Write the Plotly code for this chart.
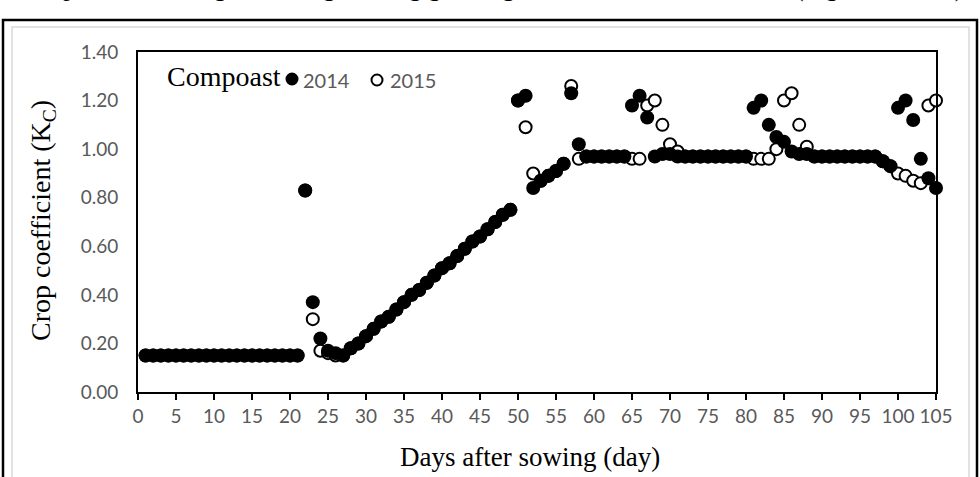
import plotly.graph_objects as go

# ---------------- data ----------------
days = list(range(1, 106))

kc_2014 = [
    0.15, 0.15, 0.15, 0.15, 0.15, 0.15, 0.15, 0.15, 0.15, 0.15,
    0.15, 0.15, 0.15, 0.15, 0.15, 0.15, 0.15, 0.15, 0.15, 0.15,
    0.15, 0.83, 0.37, 0.22, 0.17, 0.16, 0.15, 0.18, 0.20, 0.23,
    0.26, 0.29, 0.31, 0.34, 0.37, 0.40, 0.42, 0.45, 0.48, 0.51,
    0.53, 0.56, 0.59, 0.62, 0.64, 0.67, 0.70, 0.73, 0.75, 1.20,
    1.22, 0.84, 0.87, 0.89, 0.91, 0.94, 1.23, 1.02, 0.97, 0.97,
    0.97, 0.97, 0.97, 0.97, 1.18, 1.22, 1.13, 0.97, 0.98, 0.98,
    0.97, 0.97, 0.97, 0.97, 0.97, 0.97, 0.97, 0.97, 0.97, 0.97,
    1.17, 1.20, 1.10, 1.05, 1.03, 0.99, 0.98, 0.98, 0.97, 0.97,
    0.97, 0.97, 0.97, 0.97, 0.97, 0.97, 0.97, 0.95, 0.93, 1.17,
    1.20, 1.12, 0.96, 0.88, 0.84,
]

kc_2015 = [
    0.15, 0.15, 0.15, 0.15, 0.15, 0.15, 0.15, 0.15, 0.15, 0.15,
    0.15, 0.15, 0.15, 0.15, 0.15, 0.15, 0.15, 0.15, 0.15, 0.15,
    0.15, 0.83, 0.30, 0.17, 0.16, 0.15, 0.15, 0.18, 0.20, 0.23,
    0.26, 0.29, 0.31, 0.34, 0.37, 0.40, 0.42, 0.45, 0.48, 0.51,
    0.53, 0.56, 0.59, 0.62, 0.64, 0.67, 0.70, 0.73, 0.75, 1.20,
    1.09, 0.90, 0.87, 0.89, 0.91, 0.94, 1.26, 0.96, 0.97, 0.97,
    0.97, 0.97, 0.97, 0.97, 0.96, 0.96, 1.18, 1.20, 1.10, 1.02,
    0.99, 0.97, 0.97, 0.97, 0.97, 0.97, 0.97, 0.97, 0.97, 0.97,
    0.96, 0.96, 0.96, 1.00, 1.20, 1.23, 1.10, 1.01, 0.97, 0.97,
    0.97, 0.97, 0.97, 0.97, 0.97, 0.97, 0.97, 0.95, 0.93, 0.90,
    0.89, 0.87, 0.86, 1.18, 1.20,
]

x_tick_vals = [0, 5, 10, 15, 20, 25, 30, 35, 40, 45, 50, 55, 60, 65, 70, 75, 80, 85, 90, 95, 100, 105]
y_tick_vals = [0.0, 0.2, 0.4, 0.6, 0.8, 1.0, 1.2, 1.4]
y_tick_text = ["0.00", "0.20", "0.40", "0.60", "0.80", "1.00", "1.20", "1.40"]

series_names = ["2014", "2015"]
legend_title = "Compoast"
x_title = "Days after sowing (day)"
y_title = "Crop coefficient (K<sub>C</sub>)"
top_text = "of crops at different growth stages along growing season of the two seasons (Figure 3 and 5)."

# ---------------- layout geometry ----------------
W, H = 980, 477
L, R, T, B = 138, 936, 52, 392

def px(x):
    return (x - L) / (R - L)

def py(y):
    return (B - y) / (B - T)

SERIF = "Liberation Serif, Times New Roman, serif"
SANS = "Lato, Carlito, Calibri, sans-serif"
GREY = "#595959"

fig = go.Figure()

fig.add_trace(go.Scatter(
    x=days, y=kc_2015, mode="markers", name=series_names[1],
    marker=dict(symbol="circle", size=12, color="white",
                line=dict(color="black", width=2)),
    showlegend=False, cliponaxis=False,
))
fig.add_trace(go.Scatter(
    x=days, y=kc_2014, mode="markers", name=series_names[0],
    marker=dict(symbol="circle", size=14, color="black",
                line=dict(width=0)),
    showlegend=False, cliponaxis=False,
))

shapes = [
    # document frame
    dict(type="rect", xref="paper", yref="paper",
         x0=px(3), x1=px(977), y0=py(485), y1=py(20),
         line=dict(color="black", width=2.5), layer="below"),
    # chart area border
    dict(type="rect", xref="paper", yref="paper",
         x0=px(12), x1=px(969), y0=py(485), y1=py(27),
         line=dict(color="#d9d9d9", width=1.5), layer="below"),
    # legend markers
    dict(type="circle", xref="paper", yref="paper",
         xsizemode="pixel", ysizemode="pixel",
         xanchor=px(292), yanchor=py(79),
         x0=-6.5, x1=6.5, y0=-6.5, y1=6.5,
         fillcolor="black", line=dict(color="black", width=0)),
    dict(type="circle", xref="paper", yref="paper",
         xsizemode="pixel", ysizemode="pixel",
         xanchor=px(377), yanchor=py(80),
         x0=-5.5, x1=5.5, y0=-5.5, y1=5.5,
         fillcolor="white", line=dict(color="black", width=2)),
]

annotations = [
    dict(text=legend_title, xref="paper", yref="paper",
         x=px(165), y=py(77), xanchor="left", yanchor="middle",
         showarrow=False, font=dict(family=SERIF, size=28, color="black")),
    dict(text=series_names[0], xref="paper", yref="paper",
         x=px(301), y=py(80), xanchor="left", yanchor="middle",
         showarrow=False, font=dict(family=SANS, size=20, color=GREY)),
    dict(text=series_names[1], xref="paper", yref="paper",
         x=px(388), y=py(80), xanchor="left", yanchor="middle",
         showarrow=False, font=dict(family=SANS, size=20, color=GREY)),
    dict(text=x_title, xref="paper", yref="paper",
         x=px(530), y=py(457), xanchor="center", yanchor="middle",
         showarrow=False, font=dict(family=SERIF, size=27, color="black")),
    dict(text=y_title, xref="paper", yref="paper",
         x=px(42), y=py(221), xanchor="center", yanchor="middle",
         textangle=-90, showarrow=False,
         font=dict(family=SERIF, size=28, color="black")),
    dict(text=top_text, xref="paper", yref="paper",
         x=px(0), y=py(4), xanchor="left", yanchor="bottom",
         showarrow=False, font=dict(family=SERIF, size=26, color="black")),
]

fig.update_layout(
    width=W, height=H,
    margin=dict(l=L, r=W - R, t=T, b=H - B, pad=0),
    paper_bgcolor="white", plot_bgcolor="white",
    shapes=shapes, annotations=annotations,
    showlegend=False,
)

fig.update_xaxes(
    range=[0, 105], tickvals=x_tick_vals, ticktext=[str(v) for v in x_tick_vals],
    showgrid=False, zeroline=False,
    showline=True, linecolor="black", linewidth=2, mirror=True,
    ticks="outside", ticklen=6, tickwidth=2, tickcolor="black",
    tickfont=dict(family=SANS, size=19, color=GREY),
)
fig.update_yaxes(
    range=[0, 1.4], tickvals=y_tick_vals, ticktext=y_tick_text,
    showgrid=False, zeroline=False,
    showline=True, linecolor="black", linewidth=2, mirror=True,
    ticks="", ticklabelstandoff=14,
    tickfont=dict(family=SANS, size=19, color=GREY),
)

fig.write_html(
    "out.html",
    config={"displayModeBar": False},
    post_script="document.body.style.margin='0px';document.body.style.overflow='hidden';",
)
